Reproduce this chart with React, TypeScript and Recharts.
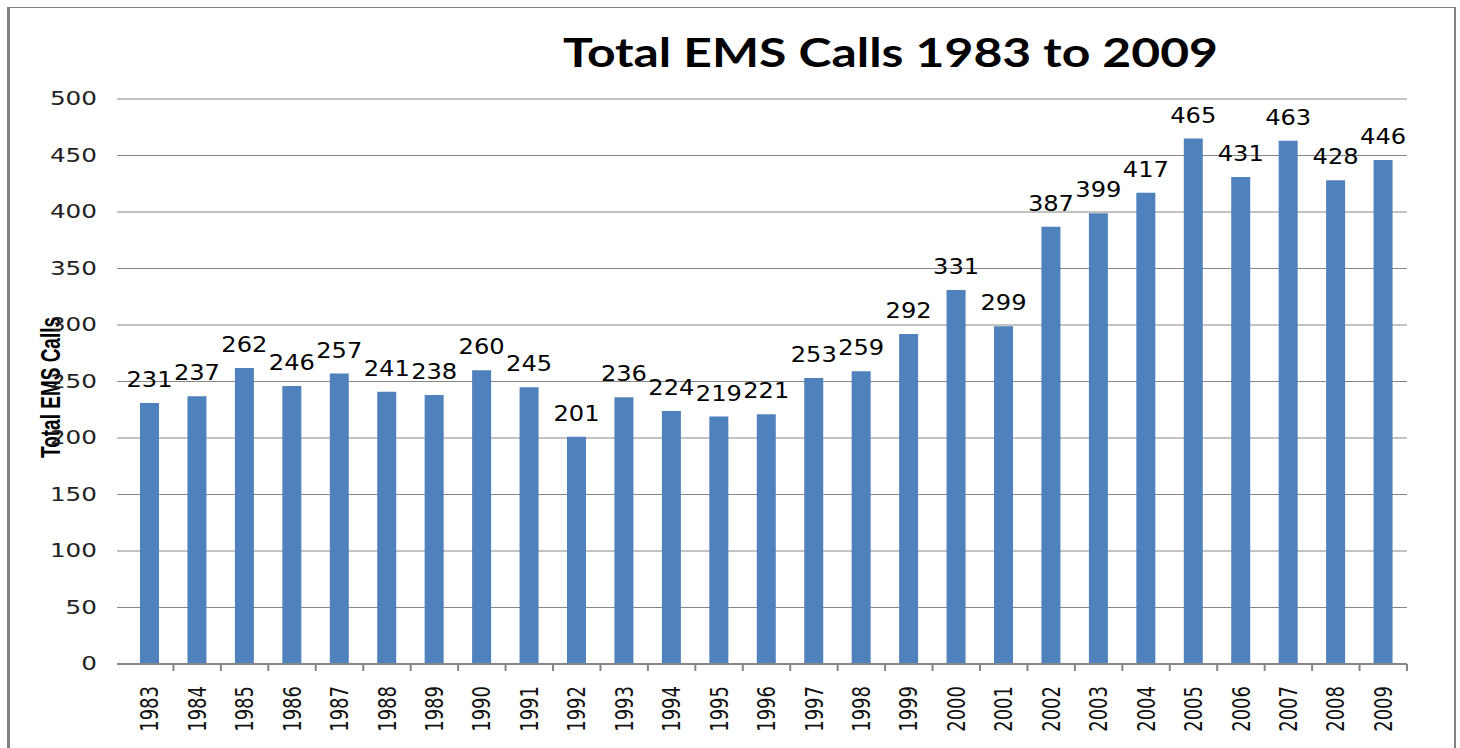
import React from 'react';
import { BarChart, Bar, XAxis, YAxis, CartesianGrid, LabelList } from 'recharts';

const years = ['1983', '1984', '1985', '1986', '1987', '1988', '1989', '1990', '1991', '1992', '1993', '1994', '1995', '1996', '1997', '1998', '1999', '2000', '2001', '2002', '2003', '2004', '2005', '2006', '2007', '2008', '2009'];
const calls = [231, 237, 262, 246, 257, 241, 238, 260, 245, 201, 236, 224, 219, 221, 253, 259, 292, 331, 299, 387, 399, 417, 465, 431, 463, 428, 446];
const yTicks = [0, 50, 100, 150, 200, 250, 300, 350, 400, 450, 500];
const chartTitle = 'Total EMS Calls 1983 to 2009';
const yAxisTitle = 'Total EMS Calls';

const data = years.map((year, i) => ({ year, calls: calls[i] }));

const GRAY = '#868686';
const BLUE = '#4F81BD';

const XTick = (props: any) => {
  const { x, y, payload } = props;
  const edge = x + (payload && payload.offset ? payload.offset : 0);
  return (
    <g>
      <line x1={edge} x2={edge} y1={y} y2={y + 7} stroke={GRAY} strokeWidth={2} />
      <text
        transform={`translate(${x},${y + 22}) scale(1.4,1) rotate(-90)`}
        textAnchor="end"
        dominantBaseline="central"
        fontFamily="DejaVu Sans"
        fontSize={18}
        fill="#111"
      >
        {payload.value}
      </text>
    </g>
  );
};

const YTick = (props: any) => {
  const { x, y, payload } = props;
  return (
    <text
      transform={`translate(${x},${y}) scale(1.3,1)`}
      textAnchor="end"
      dominantBaseline="central"
      fontFamily="DejaVu Sans"
      fontSize={19}
      fill="#222"
    >
      {payload.value}
    </text>
  );
};

const BarValue = (props: any) => {
  const { x, y, width, value } = props;
  const cx = Number(x) + Number(width) / 2;
  return (
    <text
      transform={`translate(${cx},${Number(y) - 16}) scale(1.15,1)`}
      textAnchor="middle"
      fontFamily="DejaVu Sans"
      fontSize={21}
      fill="#000"
    >
      {value}
    </text>
  );
};

const YTitle = (props: any) => {
  const vb = props.viewBox || { x: 0, y: 0, width: 0, height: 0 };
  const cx = vb.x + 51;
  const cy = vb.y + vb.height / 2 + 6;
  return (
    <text
      transform={`translate(${cx},${cy}) scale(1.45,1) rotate(-90)`}
      textAnchor="middle"
      dominantBaseline="central"
      fontFamily="Liberation Sans"
      fontWeight={700}
      fontSize={19}
      fill="#000"
    >
      {yAxisTitle}
    </text>
  );
};

export default function App() {
  return (
    <div style={{ position: 'absolute', left: 0, top: 0, width: 1460, height: 748, overflow: 'hidden', background: '#fff' }}>
      <div
        style={{
          position: 'absolute',
          left: 7,
          top: 7,
          width: 1444,
          height: 741,
          borderLeft: '3px solid #808080',
          borderTop: '1px solid #808080',
          borderRight: '2px solid #808080',
          boxSizing: 'content-box',
        }}
      />
      <div style={{ position: 'absolute', left: 0, top: 0 }}>
        <BarChart width={1460} height={748} data={data} margin={{ top: 99, right: 53, left: 0, bottom: 0 }}>
          <CartesianGrid vertical={false} stroke={GRAY} strokeWidth={1} />
          <XAxis
            dataKey="year"
            type="category"
            height={84}
            padding={{ left: 9, right: 0 }}
            tickLine={false}
            tickSize={0}
            tickMargin={0}
            axisLine={{ stroke: GRAY, strokeWidth: 2 }}
            interval={0}
            tick={<XTick />}
          />
          <YAxis
            domain={[0, 500]}
            ticks={yTicks}
            width={117}
            axisLine={false}
            tickLine={false}
            tickSize={0}
            tickMargin={20}
            interval={0}
            tick={<YTick />}
            label={{ content: <YTitle /> }}
          />
          <Bar dataKey="calls" fill={BLUE} barSize={19} isAnimationActive={false}>
            <LabelList dataKey="calls" content={<BarValue />} />
          </Bar>
        </BarChart>
      </div>
      <svg width={1460} height={90} style={{ position: 'absolute', left: 0, top: 0 }}>
        <text
          x={890.5}
          y={67}
          textAnchor="middle"
          fontFamily="Lato"
          fontWeight={700}
          fontSize={40}
          textLength={655}
          lengthAdjust="spacingAndGlyphs"
          fill="#000"
        >
          {chartTitle}
        </text>
      </svg>
    </div>
  );
}
